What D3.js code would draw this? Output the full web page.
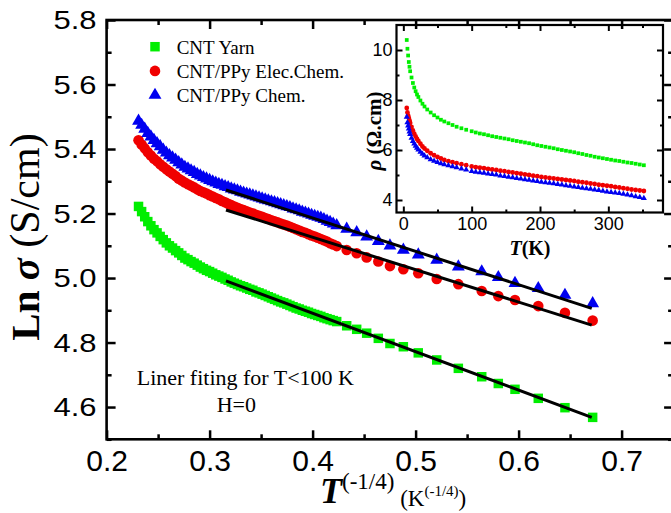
<!DOCTYPE html>
<html>
<head>
<meta charset="utf-8">
<script src="https://cdn.jsdelivr.net/npm/d3@7"></script>
<style>
body { margin: 0; background: #fff; }
svg { display: block; }
</style>
</head>
<body>
<svg id="chart" width="671" height="513"></svg>
<script>
// main plot: x = T^(-1/4), y = Ln sigma
var mainX = [0.231, 0.234, 0.237, 0.240, 0.243, 0.246, 0.249, 0.252, 0.255, 0.258,
    0.261, 0.264, 0.267, 0.270, 0.273, 0.276, 0.279, 0.282, 0.285, 0.288,
    0.291, 0.294, 0.297, 0.300, 0.303, 0.306, 0.309, 0.312, 0.315, 0.318,
    0.321, 0.324, 0.327, 0.330, 0.333, 0.336, 0.339, 0.342, 0.345, 0.348,
    0.351, 0.354, 0.357, 0.360, 0.363, 0.366, 0.369, 0.372, 0.375, 0.378,
    0.381, 0.384, 0.387, 0.390, 0.393, 0.396, 0.399, 0.402, 0.405, 0.408,
    0.411, 0.414, 0.417, 0.420,
    0.4234, 0.4331, 0.4428, 0.4525, 0.4638, 0.4751, 0.4881, 0.5026, 0.5205, 0.5415,
    0.5642, 0.5803, 0.5965, 0.6191, 0.6450, 0.6719]

var lnYarn = [5.222, 5.206, 5.190, 5.175, 5.162, 5.150, 5.140, 5.129, 5.119, 5.109,
    5.100, 5.093, 5.085, 5.078, 5.070, 5.062, 5.057, 5.051, 5.046, 5.040,
    5.034, 5.029, 5.024, 5.020, 5.015, 5.010, 5.006, 5.002, 4.997, 4.993,
    4.988, 4.984, 4.980, 4.976, 4.973, 4.969, 4.965, 4.962, 4.957, 4.954,
    4.950, 4.946, 4.942, 4.938, 4.934, 4.930, 4.926, 4.923, 4.919, 4.915,
    4.911, 4.907, 4.904, 4.900, 4.897, 4.894, 4.890, 4.887, 4.884, 4.881,
    4.877, 4.874, 4.871, 4.868,
    4.865, 4.852, 4.841, 4.829, 4.813, 4.797, 4.787, 4.768, 4.746, 4.720,
    4.694, 4.673, 4.655, 4.627, 4.598, 4.568]

var lnElec = [5.427, 5.414, 5.402, 5.390, 5.380, 5.370, 5.362, 5.353, 5.345, 5.337,
    5.330, 5.323, 5.316, 5.308, 5.302, 5.296, 5.291, 5.286, 5.281, 5.275,
    5.270, 5.266, 5.262, 5.257, 5.253, 5.248, 5.244, 5.239, 5.235, 5.230,
    5.226, 5.222, 5.218, 5.214, 5.211, 5.207, 5.203, 5.200, 5.196, 5.193,
    5.190, 5.186, 5.183, 5.179, 5.176, 5.173, 5.169, 5.166, 5.163, 5.159,
    5.155, 5.151, 5.147, 5.143, 5.140, 5.136, 5.132, 5.129, 5.125, 5.121,
    5.117, 5.113, 5.108, 5.104,
    5.099, 5.087, 5.077, 5.064, 5.051, 5.037, 5.027, 5.015, 4.997, 4.981,
    4.960, 4.944, 4.932, 4.913, 4.892, 4.868]

var lnChem = [5.487, 5.474, 5.462, 5.449, 5.438, 5.427, 5.417, 5.408, 5.397, 5.388,
    5.380, 5.373, 5.366, 5.358, 5.351, 5.344, 5.339, 5.333, 5.328, 5.322,
    5.317, 5.312, 5.308, 5.303, 5.299, 5.295, 5.291, 5.288, 5.284, 5.281,
    5.277, 5.274, 5.271, 5.267, 5.264, 5.261, 5.258, 5.255, 5.252, 5.249,
    5.246, 5.243, 5.240, 5.237, 5.234, 5.231, 5.228, 5.225, 5.222, 5.219,
    5.215, 5.212, 5.209, 5.205, 5.202, 5.199, 5.195, 5.192, 5.189, 5.186,
    5.182, 5.177, 5.173, 5.168,
    5.163, 5.152, 5.141, 5.128, 5.114, 5.100, 5.087, 5.072, 5.056, 5.035,
    5.020, 5.002, 4.984, 4.968, 4.947, 4.921]

// linear fits for T < 100 K (end points)
var fitX = [0.3159, 0.671]
var fitYarn = [4.991, 4.568]
var fitElec = [5.211, 4.854]
var fitChem = [5.273, 4.906]

// inset: resistivity vs T
var insetT = [5, 6, 7, 8, 9, 10, 12, 14, 16, 18, 20, 22, 25, 28, 31, 35, 40, 45, 50, 55,
    60, 66, 72, 78, 85, 92, 100, 106, 112, 118, 124, 130, 136, 142, 148, 154,
    160, 166, 172, 178, 184, 190, 196, 202, 208, 214, 220, 226, 232, 238, 244,
    250, 256, 262, 268, 274, 280, 286, 292, 298, 304, 310, 316, 322, 328, 334,
    340, 346, 352]

var rhoYarn = [10.4, 10.05, 9.78, 9.52, 9.33, 9.15, 8.90, 8.68, 8.50, 8.35, 8.22, 8.12,
    7.98, 7.85, 7.74, 7.62, 7.50, 7.39, 7.30, 7.21, 7.14, 7.07, 7.00, 6.93, 6.87,
    6.81, 6.75, 6.70, 6.66, 6.63, 6.59, 6.55, 6.52, 6.49, 6.46, 6.43, 6.39, 6.36,
    6.33, 6.30, 6.27, 6.23, 6.19, 6.16, 6.13, 6.10, 6.07, 6.03, 6.00, 5.97, 5.94,
    5.91, 5.87, 5.84, 5.80, 5.77, 5.73, 5.70, 5.67, 5.64, 5.61, 5.58, 5.56, 5.53,
    5.50, 5.48, 5.45, 5.42, 5.39]

var rhoElec = [7.68, 7.50, 7.38, 7.28, 7.18, 7.08, 6.92, 6.78, 6.65, 6.54, 6.44, 6.36,
    6.25, 6.14, 6.06, 5.97, 5.87, 5.79, 5.72, 5.66, 5.60, 5.55, 5.51, 5.47, 5.43,
    5.39, 5.34, 5.31, 5.29, 5.27, 5.24, 5.22, 5.20, 5.17, 5.15, 5.12, 5.10, 5.07,
    5.05, 5.02, 5.00, 4.97, 4.95, 4.92, 4.90, 4.88, 4.86, 4.84, 4.82, 4.80, 4.78,
    4.76, 4.73, 4.71, 4.69, 4.66, 4.64, 4.61, 4.59, 4.57, 4.55, 4.52, 4.50, 4.47,
    4.45, 4.42, 4.40, 4.38, 4.36]

var rhoChem = [7.32, 7.10, 6.97, 6.85, 6.73, 6.63, 6.48, 6.35, 6.25, 6.16, 6.08, 6.01,
    5.92, 5.84, 5.77, 5.70, 5.62, 5.56, 5.51, 5.46, 5.42, 5.38, 5.34, 5.30, 5.25,
    5.21, 5.15, 5.12, 5.10, 5.08, 5.05, 5.03, 5.01, 4.97, 4.95, 4.92, 4.90, 4.87,
    4.85, 4.82, 4.80, 4.77, 4.75, 4.72, 4.70, 4.68, 4.66, 4.63, 4.61, 4.58, 4.56,
    4.53, 4.51, 4.48, 4.46, 4.44, 4.41, 4.39, 4.36, 4.33, 4.31, 4.29, 4.27, 4.24,
    4.21, 4.18, 4.14, 4.11, 4.07]

var seriesNames = ['CNT Yarn', 'CNT/PPy Elec.Chem.', 'CNT/PPy Chem.']

var xTicks = [0.2, 0.3, 0.4, 0.5, 0.6, 0.7]
var xMinor = [0.25, 0.35, 0.45, 0.55, 0.65, 0.75]
var yTicks = [4.6, 4.8, 5.0, 5.2, 5.4, 5.6, 5.8]
var yMinor = [4.5, 4.7, 4.9, 5.1, 5.3, 5.5, 5.7]
var inXTicks = [0, 100, 200, 300]
var inXMinor = [50, 150, 250, 350]
var inYTicks = [4, 6, 8, 10]
var inYMinor = [5, 7, 9]

var serif = '"Liberation Serif", "Times New Roman", serif'
var sans = '"Liberation Sans", Arial, sans-serif'

var series = [
    { name: seriesNames[0], main: lnYarn, inset: rhoYarn, fit: fitYarn, color: '#00ee00', symbol: d3.symbolSquare, size: 90, inSize: 14 },
    { name: seriesNames[1], main: lnElec, inset: rhoElec, fit: fitElec, color: '#f00000', symbol: d3.symbolCircle, size: 88, inSize: 18 },
    { name: seriesNames[2], main: lnChem, inset: rhoChem, fit: fitChem, color: '#0000f0', symbol: d3.symbolTriangle, size: 72, inSize: 16 }
]

var svg = d3.select('#chart')

// main scales
var x = d3.scaleLinear().domain([0.2, 0.75]).range([106.6, 673.1])
var y = d3.scaleLinear().domain([4.5, 5.8]).range([439.3, 20])

var g = svg.append('g')

// data markers
series.forEach(function (s) {
    var sym = d3.symbol().type(s.symbol).size(s.size)
    g.append('g').selectAll('path')
        .data(mainX)
        .enter().append('path')
        .attr('d', sym)
        .attr('fill', s.color)
        .attr('transform', function (d, i) {
            return 'translate(' + x(d) + ',' + y(s.main[i]) + ')'
        })
})

// fitted lines
var fitLine = d3.line()
    .x(function (d, i) { return x(fitX[i]) })
    .y(function (d) { return y(d) })
series.forEach(function (s) {
    g.append('path')
        .datum(s.fit)
        .attr('fill', 'none')
        .attr('stroke', '#000')
        .attr('stroke-width', 3)
        .attr('d', fitLine)
})

// axes (ticks pointing inward)
function styleAxis(sel, w) {
    sel.select('.domain').remove()
    sel.selectAll('line').attr('stroke', '#000').attr('stroke-width', w)
}

var xAxis = g.append('g')
    .attr('transform', 'translate(0,' + y(4.5) + ')')
    .call(d3.axisBottom(x).tickValues(xTicks).tickSize(-9).tickPadding(10).tickFormat(d3.format('.1f')))
styleAxis(xAxis, 2.5)
xAxis.selectAll('text').attr('font-family', sans).attr('font-size', 30).attr('fill', '#000')

g.append('g')
    .attr('transform', 'translate(0,' + y(4.5) + ')')
    .call(d3.axisBottom(x).tickValues(xMinor).tickSize(-5).tickFormat(''))
    .call(styleAxis, 2.5)

g.append('g')
    .attr('transform', 'translate(0,' + y(5.8) + ')')
    .call(d3.axisTop(x).tickValues(xTicks).tickSize(-9).tickFormat(''))
    .call(styleAxis, 2.5)
g.append('g')
    .attr('transform', 'translate(0,' + y(5.8) + ')')
    .call(d3.axisTop(x).tickValues(xMinor).tickSize(-5).tickFormat(''))
    .call(styleAxis, 2.5)

var yAxis = g.append('g')
    .attr('transform', 'translate(' + x(0.2) + ',0)')
    .call(d3.axisLeft(y).tickValues(yTicks).tickSize(-9).tickPadding(10).tickFormat(d3.format('.1f')))
styleAxis(yAxis, 2.5)
yAxis.selectAll('text').attr('font-family', sans).attr('font-size', 31).attr('fill', '#000')
    .attr('transform', 'scale(1,0.86)')

g.append('g')
    .attr('transform', 'translate(' + x(0.2) + ',0)')
    .call(d3.axisLeft(y).tickValues(yMinor).tickSize(-5).tickFormat(''))
    .call(styleAxis, 2.5)

g.append('g')
    .attr('transform', 'translate(' + x(0.75) + ',0)')
    .call(d3.axisRight(y).tickValues(yTicks).tickSize(-9).tickFormat(''))
    .call(styleAxis, 2.5)
g.append('g')
    .attr('transform', 'translate(' + x(0.75) + ',0)')
    .call(d3.axisRight(y).tickValues(yMinor).tickSize(-5).tickFormat(''))
    .call(styleAxis, 2.5)

// frame
g.append('rect')
    .attr('x', x(0.2)).attr('y', y(5.8))
    .attr('width', x(0.75) - x(0.2)).attr('height', y(4.5) - y(5.8))
    .attr('fill', 'none').attr('stroke', '#000').attr('stroke-width', 2.6)

// y title
var yTitle = g.append('text')
    .attr('transform', 'translate(39,237) rotate(-90)')
    .attr('text-anchor', 'middle')
    .attr('font-family', serif)
    .attr('fill', '#000')
yTitle.append('tspan').attr('font-weight', 'bold').attr('font-size', 41).text('Ln ')
yTitle.append('tspan').attr('font-weight', 'bold').attr('font-style', 'italic').attr('font-size', 41).text('σ')
yTitle.append('tspan').attr('font-size', 42).text(' (S/cm)')

// x title
var xTitle = g.append('text')
    .attr('x', 320).attr('y', 503)
    .attr('font-family', serif)
    .attr('fill', '#000')
xTitle.append('tspan').attr('font-weight', 'bold').attr('font-style', 'italic').attr('font-size', 36).text('T')
xTitle.append('tspan').attr('font-size', 23).attr('dy', -14).text('(-1/4)')
xTitle.append('tspan').attr('font-size', 23).attr('dy', 17).text(' (K')
xTitle.append('tspan').attr('font-size', 15).attr('dy', -10).text('(-1/4)')
xTitle.append('tspan').attr('font-size', 23).attr('dy', 10).text(')')

// legend
series.forEach(function (s, i) {
    var ly = 46.7 + i * 24.2
    g.append('path')
        .attr('d', d3.symbol().type(s.symbol).size(s.size)())
        .attr('fill', s.color)
        .attr('transform', 'translate(155,' + ly + ')')
    g.append('text')
        .attr('x', 176.7).attr('y', ly + 6.8)
        .attr('font-family', serif).attr('font-size', 19)
        .attr('fill', '#000')
        .text(s.name)
})

// annotation
g.append('text')
    .attr('x', 136.7).attr('y', 385)
    .attr('font-family', serif).attr('font-size', 22).attr('fill', '#000')
    .text('Liner fiting for T<100 K')
g.append('text')
    .attr('x', 216.7).attr('y', 411.7)
    .attr('font-family', serif).attr('font-size', 22).attr('fill', '#000')
    .text('H=0')

// ---------- inset ----------
var ix = d3.scaleLinear().domain([-10, 380]).range([396.5, 663])
var iy = d3.scaleLinear().domain([3.5, 11]).range([212.5, 25])
var ig = svg.append('g')

series.forEach(function (s) {
    var sym = d3.symbol().type(s.symbol).size(s.inSize)
    ig.append('g').selectAll('path')
        .data(insetT)
        .enter().append('path')
        .attr('d', sym)
        .attr('fill', s.color)
        .attr('transform', function (d, i) {
            return 'translate(' + ix(d) + ',' + iy(s.inset[i]) + ')'
        })
})

var ixAxis = ig.append('g')
    .attr('transform', 'translate(0,' + iy(3.5) + ')')
    .call(d3.axisBottom(ix).tickValues(inXTicks).tickSize(-6).tickPadding(5))
styleAxis(ixAxis, 2)
ixAxis.selectAll('text').attr('font-family', sans).attr('font-size', 18).attr('fill', '#000')
ig.append('g')
    .attr('transform', 'translate(0,' + iy(3.5) + ')')
    .call(d3.axisBottom(ix).tickValues(inXMinor).tickSize(-3).tickFormat(''))
    .call(styleAxis, 2)
ig.append('g')
    .attr('transform', 'translate(0,' + iy(11) + ')')
    .call(d3.axisTop(ix).tickValues(inXTicks).tickSize(-6).tickFormat(''))
    .call(styleAxis, 2)
ig.append('g')
    .attr('transform', 'translate(0,' + iy(11) + ')')
    .call(d3.axisTop(ix).tickValues(inXMinor).tickSize(-3).tickFormat(''))
    .call(styleAxis, 2)

var iyAxis = ig.append('g')
    .attr('transform', 'translate(' + ix(-10) + ',0)')
    .call(d3.axisLeft(iy).tickValues(inYTicks).tickSize(-6).tickPadding(4))
styleAxis(iyAxis, 2)
iyAxis.selectAll('text').attr('font-family', sans).attr('font-size', 18).attr('fill', '#000')
ig.append('g')
    .attr('transform', 'translate(' + ix(-10) + ',0)')
    .call(d3.axisLeft(iy).tickValues(inYMinor).tickSize(-3).tickFormat(''))
    .call(styleAxis, 2)
ig.append('g')
    .attr('transform', 'translate(' + ix(380) + ',0)')
    .call(d3.axisRight(iy).tickValues(inYTicks).tickSize(-6).tickFormat(''))
    .call(styleAxis, 2)
ig.append('g')
    .attr('transform', 'translate(' + ix(380) + ',0)')
    .call(d3.axisRight(iy).tickValues(inYMinor).tickSize(-3).tickFormat(''))
    .call(styleAxis, 2)

ig.append('rect')
    .attr('x', ix(-10)).attr('y', iy(11))
    .attr('width', ix(380) - ix(-10)).attr('height', iy(3.5) - iy(11))
    .attr('fill', 'none').attr('stroke', '#000').attr('stroke-width', 2.2)

var iyTitle = ig.append('text')
    .attr('transform', 'translate(381,131) rotate(-90)')
    .attr('text-anchor', 'middle')
    .attr('font-family', serif).attr('font-weight', 'bold').attr('font-size', 21)
    .attr('fill', '#000')
iyTitle.append('tspan').attr('font-style', 'italic').text('ρ')
iyTitle.append('tspan').text(' (Ω.cm)')

var ixTitle = ig.append('text')
    .attr('x', 530).attr('y', 255)
    .attr('text-anchor', 'middle')
    .attr('font-family', serif).attr('font-weight', 'bold').attr('font-size', 20)
    .attr('fill', '#000')
ixTitle.append('tspan').attr('font-style', 'italic').text('T')
ixTitle.append('tspan').text('(K)')
</script>
</body>
</html>
